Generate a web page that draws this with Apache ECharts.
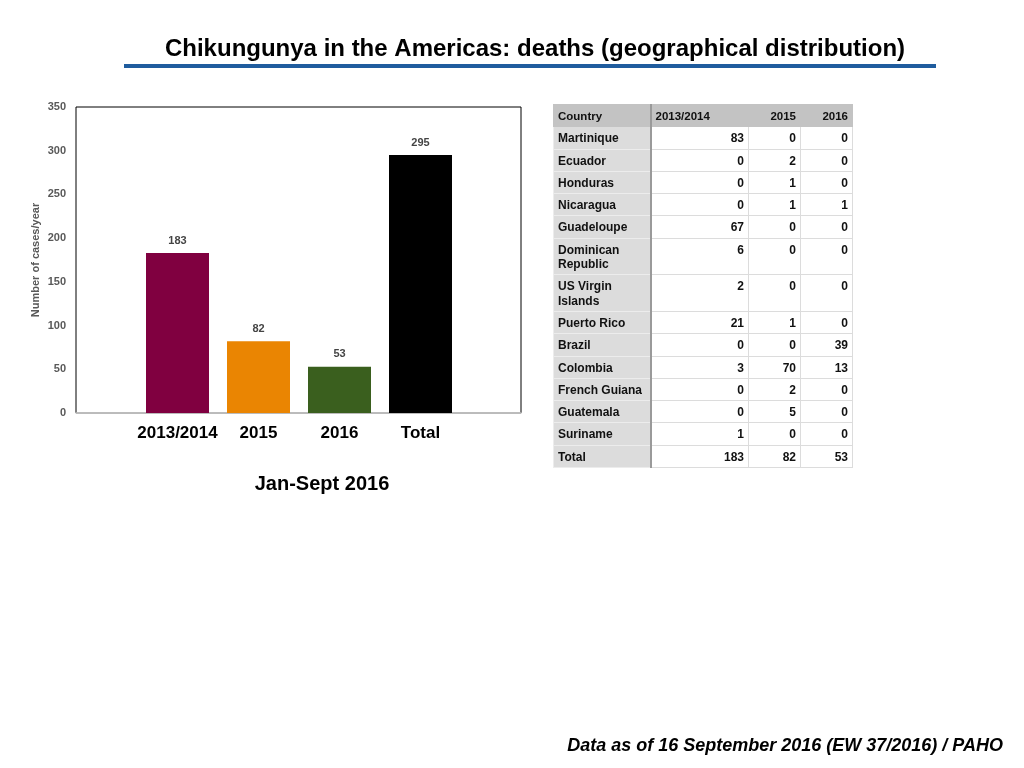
<!DOCTYPE html>
<html lang="en">
<head>
<meta charset="UTF-8" />
<title>Chikungunya deaths</title>
<script src="https://cdn.jsdelivr.net/npm/echarts@6/dist/echarts.min.js"></script>
<style>
  html, body { margin: 0; padding: 0; background: #fff; }
  #wrap { position: relative; width: 1024px; height: 768px; }
  #main { position: absolute; left: 0; top: 0; width: 1024px; height: 768px; }
  #tbl {
    position: absolute; left: 553px; top: 104px;
    border-collapse: collapse; table-layout: fixed;
    font-family: "Liberation Sans", Arial, sans-serif;
    font-size: 12px; font-weight: bold; color: #111;
  }
  #tbl td, #tbl th { border: 1px solid #dcdcdc; padding: 4px 4px 3px 4px; vertical-align: top; line-height: 14.3px; }
  #tbl th { background: #c3c3c3; font-size: 11.5px; text-align: right; border-color: #c3c3c3; }
  #tbl th.l { text-align: left; }
  #tbl td { text-align: right; }
  #tbl td.c { text-align: left; background: #dcdcdc; border-color: #ececec; border-right: 2px solid #9a9a9a; }
  #tbl th.c { border-right: 2px solid #9a9a9a; }
</style>
</head>
<body>
<div id="wrap">
  <div id="main"></div>
  <table id="tbl"></table>
</div>

<script type="text/javascript">
// bar chart data
var categories = ['2013/2014', '2015', '2016', 'Total'];
var deaths = [183, 82, 53, 295];
var barColors = ['#800040', '#EA8502', '#3A5F1E', '#000000'];

// table data
var tableHead = ['Country', '2013/2014', '2015', '2016'];
var countries = ['Martinique', 'Ecuador', 'Honduras', 'Nicaragua', 'Guadeloupe', 'Dominican Republic',
  'US Virgin Islands', 'Puerto Rico', 'Brazil', 'Colombia', 'French Guiana', 'Guatemala', 'Suriname', 'Total'];
var col2013_2014 = [83, 0, 0, 0, 67, 6, 2, 21, 0, 3, 0, 0, 1, 183];
var col2015 = [0, 2, 1, 1, 0, 0, 0, 1, 0, 70, 2, 5, 0, 82];
var col2016 = [0, 0, 0, 1, 0, 0, 0, 0, 39, 13, 0, 0, 0, 53];

// build the table
var widths = [97, 98, 52, 52];
var html = '<colgroup>';
widths.forEach(function (w) { html += '<col style="width:' + w + 'px">'; });
html += '</colgroup><tr>';
tableHead.forEach(function (h, i) {
  var cls = i === 0 ? 'l c' : (i === 1 ? 'l' : '');
  html += '<th class="' + cls + '">' + h + '</th>';
});
html += '</tr>';
for (var i = 0; i < countries.length; i++) {
  var name = countries[i].replace('Dominican Republic', 'Dominican<br>Republic').replace('US Virgin Islands', 'US Virgin<br>Islands');
  html += '<tr><td class="c">' + name + '</td>' +
    '<td>' + col2013_2014[i] + '</td><td>' + col2015[i] + '</td><td>' + col2016[i] + '</td></tr>';
}
document.getElementById('tbl').innerHTML = html;

var font = 'Liberation Sans';
var myChart = echarts.init(document.getElementById('main'));
var option = {
  animation: false,
  title: [
    {
      text: 'Chikungunya in the Americas: deaths (geographical distribution)',
      left: 530, top: 32, textAlign: 'center',
      textStyle: { fontFamily: font, fontSize: 24, fontWeight: 'bold', color: '#000' }
    },
    {
      text: 'Jan-Sept 2016',
      left: 317, top: 469, textAlign: 'center',
      textStyle: { fontFamily: font, fontSize: 20, fontWeight: 'bold', color: '#000' }
    },
    {
      text: 'Data as of 16 September 2016 (EW 37/2016) / PAHO',
      right: 16, top: 732,
      textStyle: { fontFamily: font, fontSize: 18, fontWeight: 'bold', fontStyle: 'italic', color: '#000' }
    }
  ],
  graphic: [
    { type: 'rect', shape: { x: 124, y: 64, width: 812, height: 4 }, style: { fill: '#1F5C9E' } }
  ],
  grid: [
    { left: 76, top: 107, width: 445, height: 306, show: true, borderColor: '#000', borderWidth: 1, backgroundColor: 'transparent' },
    { left: 137, top: 107, width: 324, height: 306 }
  ],
  xAxis: [
    {
      gridIndex: 0, type: 'value', min: 0, max: 1,
      axisLine: { show: true, onZero: false, lineStyle: { color: '#d0d0d0', width: 1.5 } },
      axisTick: { show: false }, axisLabel: { show: false }, splitLine: { show: false }
    },
    {
      gridIndex: 1, type: 'category', data: categories,
      axisLine: { show: false }, axisTick: { show: false },
      axisLabel: { interval: 0, margin: 12, fontFamily: font, fontSize: 17, fontWeight: 'bold', color: '#000' }
    }
  ],
  yAxis: [
    {
      gridIndex: 0, type: 'value', min: 0, max: 350, interval: 50,
      name: 'Number of cases/year', nameLocation: 'middle', nameGap: 35,
      nameTextStyle: { fontFamily: font, fontSize: 11, fontWeight: 'bold', color: '#595959' },
      axisLine: { show: false }, axisTick: { show: false }, splitLine: { show: false },
      axisLabel: { margin: 10, fontFamily: font, fontSize: 11, fontWeight: 'bold', color: '#595959' }
    },
    {
      gridIndex: 1, type: 'value', min: 0, max: 350, interval: 50, show: false
    }
  ],
  series: [
    {
      type: 'bar', xAxisIndex: 1, yAxisIndex: 1, barWidth: 63,
      data: deaths.map(function (v, i) { return { value: v, itemStyle: { color: barColors[i] } }; }),
      label: {
        show: true, position: 'top', distance: 7,
        fontFamily: font, fontSize: 11, fontWeight: 'bold', color: '#444'
      }
    }
  ]
};
myChart.setOption(option);
</script>
</body>
</html>
